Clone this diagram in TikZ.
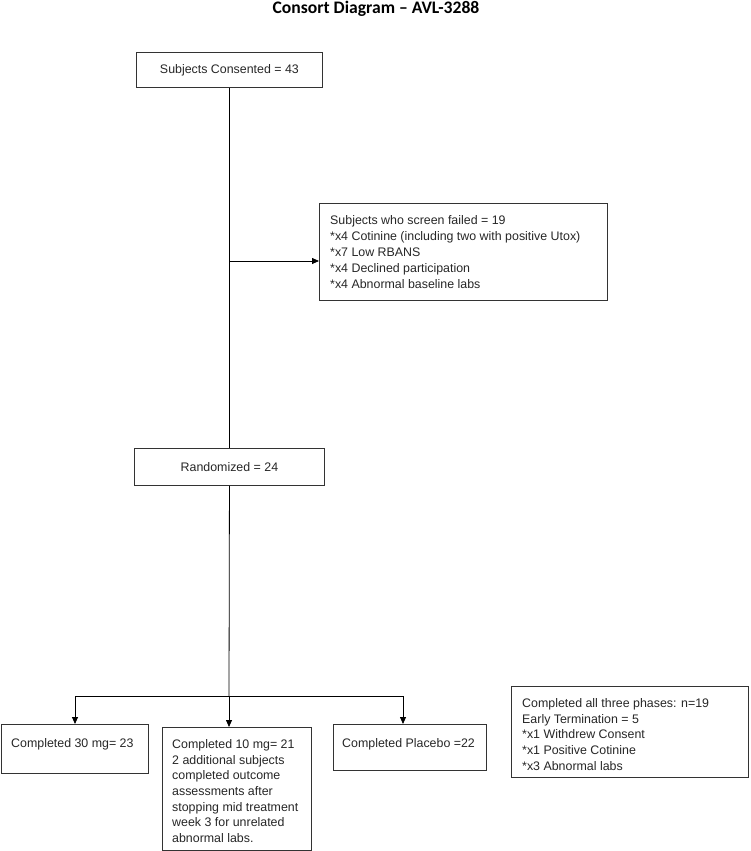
\documentclass[tikz,border=0pt]{standalone}
\usepackage{fontspec}
\setmainfont{Liberation Sans}
\newfontfamily\titlefont{Carlito}
\usetikzlibrary{arrows.meta,calc}
\begin{document}
\begin{tikzpicture}[x=1pt,y=-1pt,
 box/.style={draw=black!80, line width=0.9pt, inner sep=0pt, anchor=north west},
 txt/.style={inner sep=0pt, align=left, font=\fontsize{12.4}{15.6}\selectfont, text=black!85},
 conn/.style={line width=0.8pt, draw=black},
 arr/.style={conn, -{Triangle[length=7pt,width=6pt]}}]
\useasboundingbox (0,0) rectangle (750,851);
\node[font=\titlefont\bfseries\fontsize{17.6}{20}\selectfont, anchor=base] (title) at (376,13.5) {Consort Diagram – AVL-3288};
% boxes
\node[box, minimum width=186pt, minimum height=35pt] (b1) at (136,52) {};
\node[txt] (t1) at (b1.center) {Subjects Consented = 43};
\node[box, minimum width=288pt, minimum height=97pt] (b2) at (319,203) {};
\node[txt, anchor=north west, font=\fontsize{12.4}{16}\selectfont] (t2) at (330,215.5) {Subjects who screen failed = 19\\*x4 Cotinine (including two with positive Utox)\\*x7 Low RBANS\\*x4 Declined participation\\*x4 Abnormal baseline labs};
\node[box, minimum width=190pt, minimum height=37pt] (b3) at (134,448) {};
\node[txt] (t3) at (b3.center) {Randomized = 24};
\node[box, minimum width=147pt, minimum height=49pt] (b4) at (1,724) {};
\node[txt, anchor=north west] (t4) at (11,738.5) {Completed 30 mg= 23};
\node[box, minimum width=149pt, minimum height=123pt] (b5) at (162,727) {};
\node[txt, anchor=north west] (t5) at (172,739.5) {Completed 10 mg= 21\\2 additional subjects\\completed outcome\\assessments after\\stopping mid treatment\\week 3 for unrelated\\abnormal labs.};
\node[box, minimum width=153pt, minimum height=46pt] (b6) at (333,724) {};
\node[txt, anchor=north west] (t6) at (342,738.5) {Completed Placebo =22};
\node[box, minimum width=237pt, minimum height=91pt] (b7) at (511,686) {};
\node[txt, anchor=north west] (t7) at (522,698.5) {Completed all three phases: n=19\\Early Termination = 5\\*x1 Withdrew Consent\\*x1 Positive Cotinine\\*x3 Abnormal labs};
% connectors
\draw[conn] (b1.south) -- (b3.north);
\coordinate (j1) at (229,261);
\draw[arr] (j1) -- (j1 -| b2.west);
\coordinate (br) at (229,696);
\coordinate (bl) at (75,696);
\coordinate (brr) at (403,696);
\draw[conn] (b3.south) -- (br);
\draw[conn] (bl) -- (brr);
\draw[arr] (bl) -- (bl |- b4.north);
\draw[arr] (br) -- (br |- b5.north);
\draw[arr] (brr) -- (brr |- b6.north);
\end{tikzpicture}
\end{document}
